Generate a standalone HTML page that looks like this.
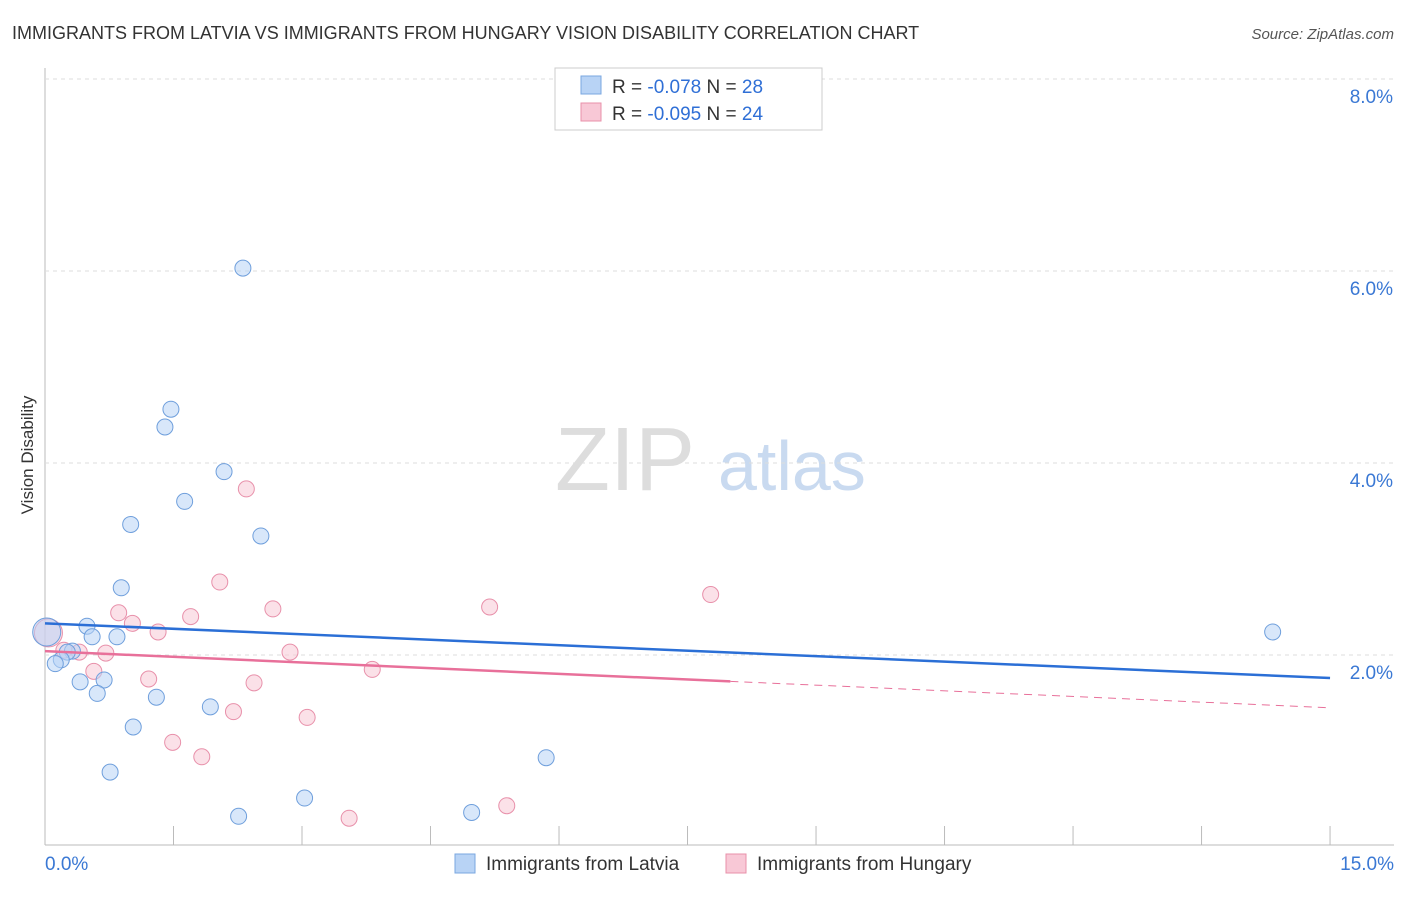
<!DOCTYPE html>
<html><head><meta charset="utf-8"><style>
body{margin:0;background:#fff;font-family:"Liberation Sans",sans-serif}
svg text{font-family:"Liberation Sans",sans-serif}
</style></head><body>
<svg id="c" width="1406" height="892">
<text x="12" y="39" font-size="18" fill="#333">IMMIGRANTS FROM LATVIA VS IMMIGRANTS FROM HUNGARY VISION DISABILITY CORRELATION CHART</text>
<text x="1394" y="39" font-size="15" fill="#555" text-anchor="end" font-style="italic">Source: ZipAtlas.com</text>
<text transform="translate(33,455) rotate(-90)" font-size="17" fill="#333" text-anchor="middle">Vision Disability</text>
<text x="555" y="490" font-size="90" fill="#ddd" font-family="Liberation Serif">ZIP</text>
<text x="718" y="490" font-size="70" fill="#c9daf0">atlas</text>
<g id="grid"></g><g id="marks"></g>
<g>
<rect x="555" y="68" width="267" height="62" fill="#fff" stroke="#ccc"/>
<rect x="581" y="76" width="20" height="18" fill="#b8d3f5" stroke="#7aa7e0"/>
<text x="612" y="93" font-size="19" fill="#333">R = <tspan fill="#2f6fd6">-0.078</tspan>   N = <tspan fill="#2f6fd6">28</tspan></text>
<rect x="581" y="103" width="20" height="18" fill="#f8c8d6" stroke="#e890aa"/>
<text x="612" y="120" font-size="19" fill="#333">R = <tspan fill="#2f6fd6">-0.095</tspan>   N = <tspan fill="#2f6fd6">24</tspan></text>
</g>
<g>
<rect x="455" y="854" width="20" height="19" fill="#b8d3f5" stroke="#7aa7e0"/>
<text x="486" y="870" font-size="19" fill="#333">Immigrants from Latvia</text>
<rect x="726" y="854" width="20" height="19" fill="#f8c8d6" stroke="#e890aa"/>
<text x="757" y="870" font-size="19" fill="#333">Immigrants from Hungary</text>
</g>
</svg>
<script>
const yTicks=[2,4,6,8];
const xTickCount=10;
const latviaX=[2.31,1.47,1.40,2.09,1.63,1.00,2.52,0.89,0.49,0.55,0.84,0.32,0.26,0.19,0.12,0.41,0.69,0.61,1.30,1.93,1.03,0.76,3.03,2.26,4.98,5.85,14.33,0.02];
const latviaY=[6.03,4.56,4.375,3.91,3.60,3.36,3.24,2.70,2.30,2.19,2.19,2.04,2.03,1.95,1.91,1.72,1.74,1.60,1.56,1.46,1.25,0.78,0.51,0.32,0.36,0.93,2.24,2.24];
const hungaryX=[2.35,2.04,0.86,1.70,2.66,5.19,7.77,1.02,1.32,0.71,0.40,0.22,2.86,0.57,3.82,1.21,2.44,2.20,3.06,1.49,1.83,5.39,3.55,0.04];
const hungaryY=[3.73,2.76,2.44,2.40,2.48,2.50,2.63,2.33,2.24,2.02,2.03,2.05,2.03,1.83,1.85,1.75,1.71,1.41,1.35,1.09,0.94,0.43,0.30,2.23];
const latviaTrend=[2.33,1.76];
const hungaryTrend=[2.04,1.45];
const hungaryTrendSolidEnd=8.0;
const X=v=>45+v*85.67, Y=v=>847-v*96;
const NS="http://www.w3.org/2000/svg";
const grid=document.getElementById('grid'), marks=document.getElementById('marks'), svg=document.getElementById('c');
function mk(p,t,a){const e=document.createElementNS(NS,t);for(const k in a)e.setAttribute(k,a[k]);p.appendChild(e);return e;}
let ax=mk(grid,'line',{x1:45,y1:68,x2:45,y2:845,stroke:'#bbb'});


let bx=mk(grid,'line',{x1:45,y1:845,x2:1394,y2:845,stroke:'#bbb'});


yTicks.forEach(v=>{
 let l=mk(grid,'line',{x1:45,y1:Y(v),x2:1394,y2:Y(v),stroke:'#ddd','stroke-dasharray':'4,4'});
 
 
 let t=mk(grid,'text',{x:1393,y:Y(v)+24,'font-size':19,fill:'#3a78d4','text-anchor':'end'});t.textContent=v.toFixed(1)+'%';
 
 
});
for(let i=1;i<=xTickCount;i++){let l=mk(grid,'line',{x1:X(i*1.5),y1:826,x2:X(i*1.5),y2:845,stroke:'#bbb'});
 
 }
let t0=mk(grid,'text',{x:45,y:870,'font-size':19,fill:'#3a78d4'});t0.textContent='0.0%';


let t1=mk(grid,'text',{x:1394,y:870,'font-size':19,fill:'#3a78d4','text-anchor':'end'});t1.textContent='15.0%';


function pts(xs,ys,f,s,name){xs.forEach((x,i)=>{const big=x<0.1;
 let c=mk(marks,'circle',{cx:X(x),cy:Y(ys[i]),r:big?14:8,fill:f,'fill-opacity':0.55,stroke:s,'stroke-width':1});
 
 });}
pts(hungaryX,hungaryY,'#f8c8d6','#e890aa','hungary-point');
pts(latviaX,latviaY,'#b8d3f5','#6f9fdc','latvia-point');
let lb=mk(marks,'line',{x1:X(0),y1:Y(latviaTrend[0]),x2:X(15),y2:Y(latviaTrend[1]),stroke:'#2b6fd6','stroke-width':2.5});


const hy=v=>hungaryTrend[0]+(hungaryTrend[1]-hungaryTrend[0])*v/15;
let lp=mk(marks,'line',{x1:X(0),y1:Y(hy(0)),x2:X(hungaryTrendSolidEnd),y2:Y(hy(hungaryTrendSolidEnd)),stroke:'#e8709a','stroke-width':2.5});


let lpd=mk(marks,'line',{x1:X(hungaryTrendSolidEnd),y1:Y(hy(hungaryTrendSolidEnd)),x2:X(15),y2:Y(hy(15)),stroke:'#e8709a','stroke-width':1,'stroke-dasharray':'8,6'});


</script>
</body></html>
